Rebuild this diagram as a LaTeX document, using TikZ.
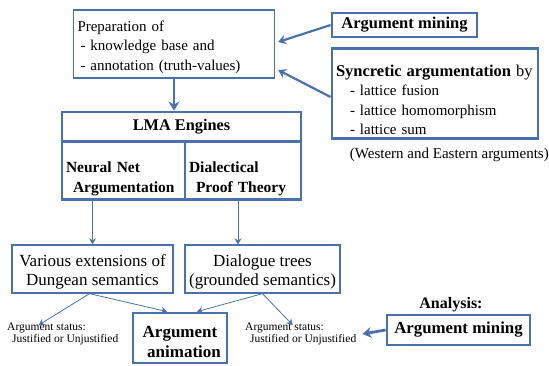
\documentclass[tikz,border=0pt]{standalone}
\usepackage{fontspec}
\setmainfont{Liberation Serif}
\usetikzlibrary{arrows.meta, positioning}
\definecolor{boxblue}{RGB}{74,114,170}
\tikzset{
  thinbox/.style={draw=boxblue, line width=1.3pt, inner sep=4pt},
  thickbox/.style={draw=boxblue, line width=2.8pt, inner sep=4pt},
  bigarrow/.style={-{Stealth[length=9pt,width=11pt,inset=3pt]}, draw=boxblue, line width=2.8pt},
  midarrow/.style={-{Stealth[length=8pt,width=10pt,inset=3pt]}, draw=boxblue, line width=2.2pt},
  smallarrow/.style={-{Stealth[length=6pt,width=7pt,inset=2pt]}, draw=boxblue, line width=0.8pt},
  txt/.style={font=\fontsize{15}{19.5}\selectfont},
  boldtxt/.style={font=\fontsize{15.5}{19.5}\selectfont\bfseries},
  smalltxt/.style={font=\fontsize{11.5}{11.5}\selectfont, inner sep=0pt, align=left}
}

\begin{document}
\begin{tikzpicture}[x=1pt, y=-1pt]
    \useasboundingbox (0,0) rectangle (549,365);

    % top row
    \node[thinbox, txt, minimum height=68pt, text width=193pt, align=left] (prep) at (174,44)
      {\rule{0pt}{17pt}Preparation of\\\hspace*{3pt}- knowledge base and\\\hspace*{3pt}- annotation (truth-values)};
    \node[thickbox, minimum width=145pt, minimum height=24pt, font=\fontsize{16.5}{19}\selectfont\bfseries] (mine) at (404.5,25) {Argument mining};
    \node[thickbox, txt, minimum height=87pt, text width=198pt, align=left] (sync) at (435,93.5)
      {{\fontsize{16.5}{19.5}\selectfont\rule{0pt}{24pt}\textbf{Syncretic argumentation} by}\\\hspace*{14pt}- lattice fusion\\\hspace*{14pt}- lattice homomorphism\\\hspace*{14pt}- lattice sum};
    \node[txt, anchor=east, inner sep=0pt] (west) at (549,155) {(Western and Eastern arguments)};

    % engines
    \node[thickbox, minimum width=239pt, minimum height=30pt, font=\fontsize{16.3}{19}\selectfont\bfseries] (lma) at (181.5,127) {LMA Engines};
    \node[thickbox, boldtxt, minimum height=57pt, text width=115pt, align=left] (neural) at (123.5,170.5)
      {\rule{0pt}{27pt}Neural Net\\\hspace*{7pt}Argumentation};
    \node[thickbox, boldtxt, minimum height=57pt, text width=108pt, align=left] (dialect) at (243,170.5)
      {\rule{0pt}{27pt}Dialectical\\\hspace*{7pt}Proof Theory};

    % semantics
    \node[thinbox, minimum width=161pt, minimum height=48pt, align=center, font=\fontsize{17}{19}\selectfont] (various) at (92.5,269)
      {\rule{0pt}{17pt}Various extensions of\\Dungean semantics};
    \node[thinbox, minimum width=155pt, minimum height=48pt, align=center, font=\fontsize{17}{19}\selectfont] (dialogue) at (262.5,269)
      {\rule{0pt}{17pt}Dialogue trees\\(grounded semantics)};

    % bottom row
    \node[smalltxt, anchor=west] (statL) at (7,334) {Argument status:\\\hspace*{5pt}Justified or Unjustified};
    \node[thickbox, minimum width=94pt, minimum height=50pt, align=center, font=\fontsize{17}{20}\selectfont\bfseries] (anim) at (180,338)
      {\rule{0pt}{20pt}Argument\\\hspace*{8pt}animation};
    \node[smalltxt, anchor=west] (statR) at (245,334) {Argument status:\\\hspace*{5pt}Justified or Unjustified};
    \node[font=\fontsize{16}{19}\selectfont\bfseries] (analysis) at (451,305) {Analysis:};
    \node[thickbox, minimum width=143pt, minimum height=30pt, font=\fontsize{16.8}{19}\selectfont\bfseries] (mine2) at (458.5,330) {Argument mining};

    % connectors
    \draw[bigarrow] (prep.south) -- (prep.south |- lma.north);
    \draw[midarrow] (mine.west) -- ([xshift=3pt, yshift=2pt]prep.east);
    \draw[midarrow] ([yshift=-3.5pt]sync.west) -- ([xshift=3pt, yshift=-26pt]prep.east);
    \draw[smallarrow] (various.north |- neural.south) -- (various.north);
    \draw[smallarrow] ([xshift=-5pt]dialect.south) -- ([xshift=-5pt]dialect.south |- dialogue.north);
    \draw[smallarrow] ([xshift=-3pt]various.south) -- ([xshift=-24pt, yshift=-2pt]statL.north);
    \draw[smallarrow] ([xshift=-3pt]various.south) -- ([xshift=-13pt]anim.north);
    \draw[smallarrow] ([xshift=0pt]dialogue.south) -- ([xshift=17pt]anim.north);
    \draw[smallarrow] ([xshift=0pt]dialogue.south) -- ([xshift=-8pt, yshift=-2pt]statR.north);
    \draw[bigarrow] (mine2.west) -- ([xshift=6pt]statR.east);
\end{tikzpicture}
\end{document}
